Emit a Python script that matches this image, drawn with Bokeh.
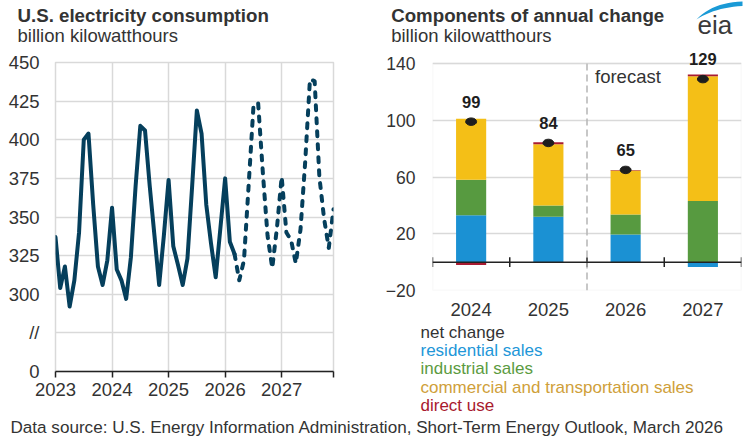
from bokeh.plotting import figure
from bokeh.layouts import column, row
from bokeh.models import FixedTicker, Label, Span, Range1d, PolyAnnotation, BoxAnnotation
from bokeh.embed import file_html
from bokeh.resources import INLINE

FONT = "Liberation Sans"
TEXT = "#333333"
GRID = "#d9d9d9"
NAVY = "#053f5c"

# ---------------- data: left panel (monthly, Jan 2023 - Dec 2027) ----------------
start_year = 2023
year_ticks = [2023, 2024, 2025, 2026, 2027]
consumption = [
    337, 304, 318, 292, 309, 340, 400, 404, 358, 318, 306, 322,   # 2023
    356, 316, 309, 297, 324, 370, 409, 406, 370, 338, 306, 338,   # 2024
    374, 331, 319, 306, 323, 370, 419, 404, 358, 333, 311, 343,   # 2025
    375, 334, 326, 309, 322, 371, 421, 424, 379, 338, 317, 343,   # 2026
    376, 340, 335, 320, 342, 386, 439, 438, 376, 349, 330, 355,   # 2027
]
history_end = 38  # last month drawn solid
y_ticks = [250, 275, 300, 325, 350, 375, 400, 425, 450]
y_tick_labels = ["0", "//", "300", "325", "350", "375", "400", "425", "450"]

# ---------------- data: right panel ----------------
years = ["2024", "2025", "2026", "2027"]
residential = [33, 32, 19.5, -3.5]
industrial = [25, 8, 14, 43]
commercial = [43, 43, 31, 88]
direct_use = [-2, 1.5, 0.5, 1.3]
net_change = [99, 84, 65, 129]
forecast_from = "2026"
p2_y_ticks = [-20, 20, 60, 100, 140]

series = [
    ("residential sales", residential, "#1b91d3", "#2196d8"),
    ("industrial sales", industrial, "#579a40", "#5b9b3f"),
    ("commercial and transportation sales", commercial, "#f4bf17", "#cfa03a"),
    ("direct use", direct_use, "#a81b32", "#a8192e"),
]

W1, W2 = 370, 373
HH, HM, HF = 48, 367, 28          # header, middle, footer heights


def plain_fig(w, h):
    f = figure(width=w, height=h, x_range=Range1d(0, w), y_range=Range1d(h, 0),
               x_axis_location=None, y_axis_location=None, title_location=None,
               min_border=0, output_backend="svg", toolbar_location=None,
               background_fill_color="white", border_fill_color="white",
               outline_line_color=None)
    f.grid.visible = False
    return f


def lab(f, x, baseline, text, size, color=TEXT, bold=False, align="left"):
    # place text by its baseline (vertical middle sits ~0.34 em above the baseline)
    fs = float(size.replace("px", ""))
    f.add_layout(Label(x=x, y=baseline - 0.34 * fs, text=text, text_font=FONT,
                       text_font_size=size, text_color=color,
                       text_font_style="bold" if bold else "normal",
                       text_align=align, text_baseline="middle"))


# ================= header (titles + logo) =================
head = plain_fig(W1 + W2, HH)
lab(head, 17, 21.7, "U.S. electricity consumption", "18.7px", bold=True)
lab(head, 17, 41.7, "billion kilowatthours", "18.5px")
lab(head, W1 + 20.7, 21, "Components of annual change", "18.7px", bold=True)
lab(head, W1 + 20.7, 41.7, "billion kilowatthours", "18.5px")
lab(head, 697, 33.5, "eia", "26px", color="#3a3a3a")
outer, inner = [], []
for j in range(13):
    s = j / 12
    outer.append(((1 - s) ** 2 * 696 + 2 * (1 - s) * s * 712 + s ** 2 * 742,
                  (1 - s) ** 2 * 19 + 2 * (1 - s) * s * 2 + s ** 2 * 1))
    inner.append(((1 - s) ** 2 * 696 + 2 * (1 - s) * s * 714 + s ** 2 * 742,
                  (1 - s) ** 2 * 19 + 2 * (1 - s) * s * 7 + s ** 2 * 5.5))
pts = outer + inner[::-1]
head.add_layout(PolyAnnotation(xs=[q[0] for q in pts], ys=[q[1] for q in pts],
                               fill_color="#1a9ad6", fill_alpha=1.0, line_color=None))

# ================= left figure =================
x_end = start_year + (len(consumption) - 1) / 12
p1 = figure(width=W1, height=HM, x_range=Range1d(start_year, x_end),
            y_range=Range1d(y_ticks[0], y_ticks[-1]),
            output_backend="svg", toolbar_location=None, title_location=None,
            min_border_left=55, min_border_right=37, min_border_top=14, min_border_bottom=44,
            background_fill_color="white", border_fill_color="white",
            outline_line_color=GRID, outline_line_width=1.5)

t = [start_year + i / 12 for i in range(len(consumption))]
p1.line(t[:history_end + 1], consumption[:history_end + 1], line_width=4, color=NAVY,
        line_join="round", line_cap="round")
p1.line(t[history_end:], consumption[history_end:], line_width=4, color=NAVY,
        line_dash="5 8", line_cap="round", line_join="round")

p1.xaxis.ticker = FixedTicker(ticks=year_ticks, minor_ticks=[x_end])
p1.xaxis.axis_line_color = "#222222"
p1.xaxis.axis_line_width = 1.5
p1.xaxis.major_tick_in = 0
p1.xaxis.major_tick_out = 6
p1.xaxis.major_tick_line_color = "#222222"
p1.xaxis.major_tick_line_width = 1.5
p1.xaxis.minor_tick_in = 0
p1.xaxis.minor_tick_out = 6
p1.xaxis.minor_tick_line_color = "#222222"
p1.xaxis.minor_tick_line_width = 1.5
p1.xaxis.major_label_standoff = 5

p1.yaxis.ticker = FixedTicker(ticks=y_ticks)
p1.yaxis.major_label_overrides = dict(zip(y_ticks, y_tick_labels))
p1.yaxis.axis_line_color = None
p1.yaxis.major_tick_line_color = None
p1.yaxis.minor_tick_line_color = None
p1.yaxis.major_tick_out = 0
p1.yaxis.major_tick_in = 0
p1.yaxis.major_label_standoff = 16

for ax in (p1.xaxis, p1.yaxis):
    ax.major_label_text_font = FONT
    ax.major_label_text_font_size = "18.5px"
    ax.major_label_text_color = TEXT

p1.grid.grid_line_color = GRID
p1.grid.grid_line_width = 1.5

# ================= right figure =================
n = len(years)
P2_TOP, P2_FRAME, P2_BOT = 2, 240, 32
px_per_unit = 227 / (p2_y_ticks[-1] - p2_y_ticks[0])
y2_top = p2_y_ticks[0] + P2_FRAME / px_per_unit
p2 = figure(width=W2, height=P2_TOP + P2_FRAME + P2_BOT, x_range=Range1d(0, n),
            y_range=Range1d(p2_y_ticks[0], y2_top),
            output_backend="svg", toolbar_location=None, title_location=None,
            min_border_left=62, min_border_right=2, min_border_top=P2_TOP,
            min_border_bottom=P2_BOT,
            background_fill_color="white", border_fill_color="white",
            outline_line_color=None)

p2.add_layout(BoxAnnotation(left=0, right=n, bottom=p2_y_ticks[0], top=p2_y_ticks[-1],
                            fill_color=None, line_color=GRID, line_width=1.5))

xs = [i + 0.5 for i in range(n)]
pos_base = [0.0] * n
neg_base = [0.0] * n
for name, vals, color, _ in series:
    bottoms, tops = [], []
    for i, v in enumerate(vals):
        if v >= 0:
            b = pos_base[i]
            pos_base[i] = b + v
        else:
            b = neg_base[i]
            neg_base[i] = b + v
        bottoms.append(b)
        tops.append(b + v)
    p2.vbar(x=xs, bottom=bottoms, top=tops, width=0.39, fill_color=color, line_color=None)

# zero axis with category boundary ticks
p2.add_layout(Span(location=0, dimension="width", line_color="#222222", line_width=1.5))
bounds = list(range(n + 1))
p2.segment(x0=bounds, y0=[-3.5] * len(bounds), x1=bounds, y1=[3.5] * len(bounds),
           line_color="#222222", line_width=1.5)

# forecast divider
fx = years.index(forecast_from)
p2.segment(x0=[fx], y0=[p2_y_ticks[0]], x1=[fx], y1=[p2_y_ticks[-1]], line_color="#b5b5b5",
           line_width=1.5, line_dash="7 4")
p2.add_layout(Label(x=fx, y=p2_y_ticks[-1], x_offset=8, y_offset=-12.5, text="forecast",
                    text_font=FONT, text_font_size="18.5px", text_color=TEXT,
                    text_baseline="middle"))

# net change markers and labels
p2.ellipse(x=xs, y=net_change, width=11, height=7.5, width_units="screen",
           height_units="screen", fill_color="#1e1e1e", line_color="#1e1e1e")
for xv, nv in zip(xs, net_change):
    p2.add_layout(Label(x=xv, y=nv, y_offset=20, text=str(nv), text_font=FONT,
                        text_font_size="16.5px", text_font_style="bold",
                        text_color="#1e1e1e", text_align="center", text_baseline="middle"))

p2.xaxis.ticker = FixedTicker(ticks=xs)
p2.xaxis.major_label_overrides = dict(zip(xs, years))
p2.xaxis.axis_line_color = None
p2.xaxis.major_tick_line_color = None
p2.xaxis.minor_tick_line_color = None
p2.xaxis.major_tick_out = 0
p2.xaxis.major_tick_in = 0
p2.xaxis.major_label_standoff = 12
p2.xaxis.major_label_text_font_size = "18.5px"

p2.yaxis.ticker = FixedTicker(ticks=p2_y_ticks)
p2.yaxis.axis_line_color = None
p2.yaxis.major_tick_line_color = None
p2.yaxis.minor_tick_line_color = None
p2.yaxis.major_tick_out = 0
p2.yaxis.major_tick_in = 0
p2.yaxis.major_label_standoff = 17
p2.yaxis.major_label_text_font_size = "17.5px"
for ax in (p2.xaxis, p2.yaxis):
    ax.major_label_text_font = FONT
    ax.major_label_text_color = TEXT

p2.xgrid.grid_line_color = None
p2.ygrid.grid_line_color = GRID
p2.ygrid.grid_line_width = 1.5

# legend as coloured text below the right chart
HL = HM - (P2_TOP + P2_FRAME + P2_BOT)
leg = plain_fig(W2, HL)
legend_rows = [("net change", TEXT)] + [(s[0], s[3]) for s in series]
for k, (txt, col) in enumerate(legend_rows):
    lab(leg, 50, 16 + 18.1 * k, txt, "17px", color=col)

# ================= footer =================
foot = plain_fig(W1 + W2, HF)
lab(foot, 10, 17.5, "Data source: U.S. Energy Information Administration, "
    "Short-Term Energy Outlook, March 2026", "17.1px")

layout = column(head, row(p1, column(p2, row(leg))), foot)

open("out.html", "w").write(file_html(layout, INLINE))
